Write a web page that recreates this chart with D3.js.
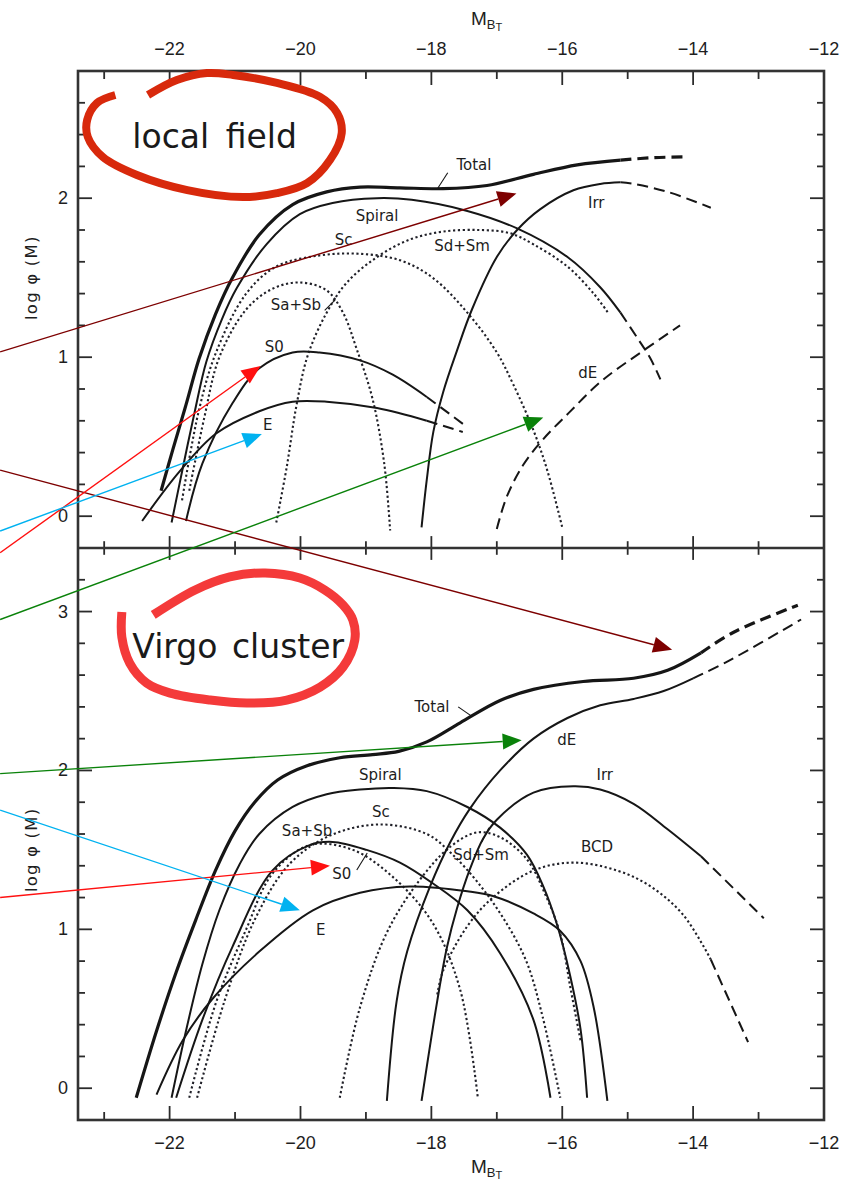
<!DOCTYPE html>
<html>
<head>
<meta charset="utf-8">
<script src="https://cdn.jsdelivr.net/npm/d3@7"></script>
<style>
  html, body { margin: 0; padding: 0; background: #fff; }
  svg { display: block; }
</style>
</head>
<body>
<svg id="chart" width="845" height="1185"></svg>
<script>
// ---------- tick values ----------
const magMajorTicks = [-22, -20, -18, -16, -14, -12];
const magMinorTicks = [-23, -21, -19, -17, -15, -13];
const fieldLogTicks = [0, 1, 2];
const virgoLogTicks = [0, 1, 2, 3];

// ---------- local field luminosity functions: [M_BT, log phi] ----------
const fieldTotal = [[-22.13,0.16],[-21.95,0.42],[-21.75,0.7],[-21.55,0.99],[-21.3,1.27],[-21.04,1.5],[-20.63,1.77],[-20.12,1.96],[-19.6,2.04],[-19.09,2.07],[-18.48,2.065],[-17.82,2.06],[-17.15,2.08],[-16.44,2.15],[-15.77,2.21],[-15.11,2.24],[-14.6,2.255],[-14.1,2.26]];
const fieldSpiral = [[-21.97,-0.04],[-21.8,0.3],[-21.62,0.65],[-21.44,0.97],[-21.2,1.24],[-20.98,1.43],[-20.52,1.71],[-20.01,1.9],[-19.51,1.97],[-18.83,2.0],[-18.3,1.99],[-17.45,1.92],[-16.69,1.81],[-15.92,1.63],[-15.42,1.44],[-15.11,1.28],[-14.85,1.12],[-14.65,0.99],[-14.5,0.86]];
const fieldSc = [[-21.81,0.1],[-21.55,0.67],[-21.29,1.03],[-20.83,1.4],[-20.37,1.57],[-19.71,1.64],[-19.09,1.65],[-18.48,1.61],[-17.98,1.5],[-17.45,1.28],[-17.0,1.03],[-16.75,0.83],[-16.44,0.54],[-16.23,0.29],[-16.0,-0.07]];
const fieldSaSb = [[-21.7,0.16],[-21.47,0.62],[-21.24,1.0],[-20.83,1.3],[-20.43,1.43],[-20.01,1.47],[-19.6,1.42],[-19.35,1.28],[-19.14,1.05],[-18.9,0.74],[-18.72,0.33],[-18.63,-0.09]];
const fieldSdSm = [[-20.37,-0.04],[-20.21,0.31],[-20.06,0.7],[-19.89,1.01],[-19.6,1.28],[-19.29,1.47],[-18.83,1.63],[-18.33,1.74],[-17.82,1.79],[-17.26,1.8],[-16.8,1.78],[-16.44,1.71],[-15.92,1.57],[-15.52,1.4],[-15.3,1.28]];
const fieldS0 = [[-21.75,-0.03],[-21.5,0.33],[-21.04,0.71],[-20.63,0.93],[-20.12,1.03],[-19.71,1.03],[-19.09,0.98],[-18.59,0.89],[-18.07,0.75],[-17.45,0.56]];
const fieldE = [[-22.42,-0.03],[-21.85,0.28],[-21.29,0.52],[-20.63,0.66],[-20.12,0.72],[-19.6,0.72],[-18.83,0.68],[-18.07,0.6],[-17.52,0.53]];
const fieldIrr = [[-18.15,-0.07],[-18.07,0.23],[-17.97,0.53],[-17.82,0.78],[-17.61,1.04],[-17.38,1.3],[-17.0,1.63],[-16.69,1.8],[-16.34,1.93],[-15.83,2.05],[-15.42,2.09],[-15.11,2.1],[-14.91,2.09],[-14.39,2.04],[-13.73,1.94]];
const fieldDE = [[-17.0,-0.08],[-16.85,0.12],[-16.6,0.32],[-16.3,0.48],[-15.9,0.65],[-15.4,0.85],[-14.8,1.03],[-14.2,1.2]];

// ---------- Virgo cluster luminosity functions: [M_BT, log phi] ----------
const virgoTotal = [[-22.51,-0.06],[-22.2,0.36],[-21.9,0.73],[-21.6,1.06],[-21.3,1.37],[-21.0,1.62],[-20.7,1.8],[-20.35,1.94],[-19.9,2.03],[-19.4,2.08],[-18.9,2.1],[-18.5,2.12],[-18.07,2.18],[-17.56,2.3],[-16.95,2.44],[-16.44,2.51],[-15.68,2.56],[-14.91,2.58],[-14.39,2.63],[-13.88,2.74],[-13.38,2.87],[-12.4,3.04]];
const virgoSpiral = [[-21.97,-0.06],[-21.75,0.36],[-21.5,0.78],[-21.24,1.12],[-20.93,1.41],[-20.63,1.6],[-20.12,1.77],[-19.6,1.85],[-19.09,1.88],[-18.59,1.89],[-18.07,1.87],[-17.45,1.77],[-16.95,1.64],[-16.54,1.47],[-16.29,1.27],[-16.08,1.03],[-15.88,0.71],[-15.72,0.37],[-15.62,-0.06]];
const virgoSc = [[-21.58,-0.06],[-21.16,0.55],[-20.7,1.06],[-20.17,1.41],[-19.55,1.59],[-18.79,1.66],[-18.07,1.6],[-17.7,1.48],[-17.3,1.3],[-16.9,1.07],[-16.55,0.8],[-16.3,0.45],[-16.03,-0.06]];
const virgoSaSb = [[-21.7,-0.06],[-21.29,0.54],[-20.83,1.0],[-20.43,1.35],[-19.86,1.53],[-19.2,1.5],[-18.59,1.33],[-17.98,1.04],[-17.56,0.62],[-17.29,-0.06]];
const virgoSdSm = [[-19.4,-0.06],[-19.09,0.51],[-18.68,0.98],[-18.18,1.31],[-17.71,1.52],[-17.3,1.61],[-16.95,1.58],[-16.54,1.44],[-16.26,1.22],[-16.03,0.97],[-15.87,0.62],[-15.72,0.3]];
const virgoS0 = [[-21.9,-0.06],[-21.5,0.43],[-21.04,0.89],[-20.43,1.37],[-19.86,1.53],[-19.51,1.55],[-18.99,1.5],[-18.48,1.42],[-17.98,1.29],[-17.45,1.12],[-16.95,0.85],[-16.44,0.43],[-16.18,-0.06]];
const virgoE = [[-22.2,-0.04],[-21.8,0.3],[-21.35,0.56],[-20.63,0.86],[-19.81,1.12],[-19.09,1.23],[-18.33,1.27],[-17.45,1.24],[-17.06,1.21],[-16.44,1.1],[-16.03,0.99],[-15.72,0.8],[-15.52,0.51],[-15.31,-0.08]];
const virgoDE = [[-18.68,-0.08],[-18.53,0.55],[-18.37,0.86],[-18.02,1.27],[-17.71,1.55],[-17.41,1.76],[-16.95,2.0],[-16.44,2.2],[-15.92,2.33],[-15.42,2.41],[-14.91,2.45],[-14.45,2.5],[-14.0,2.58],[-13.5,2.68],[-12.35,2.95]];
const virgoIrr = [[-18.15,-0.08],[-17.91,0.55],[-17.76,0.89],[-17.61,1.13],[-17.41,1.38],[-17.21,1.57],[-17.0,1.69],[-16.44,1.86],[-15.83,1.9],[-15.42,1.88],[-14.91,1.79],[-14.39,1.63],[-13.88,1.46],[-12.92,1.07]];
const virgoBCD = [[-17.91,0.59],[-17.82,0.74],[-17.45,1.02],[-17.06,1.2],[-16.44,1.37],[-15.83,1.42],[-15.16,1.37],[-14.65,1.27],[-14.15,1.09],[-13.73,0.81],[-13.16,0.29]];

// ---------- curve labels: [text, M_BT, log phi] ----------
const fieldLabels = [["Total",-17.35,2.21],["Spiral",-18.83,1.89],["Sc",-19.34,1.74],["Sd+Sm",-17.53,1.70],["Sa+Sb",-20.07,1.33],["S0",-20.40,1.064],["E",-20.50,0.573],["Irr",-15.48,1.97],["dE",-15.61,0.90]];
const virgoLabels = [["Total",-17.99,2.40],["dE",-15.93,2.19],["Spiral",-18.78,1.97],["Irr",-15.35,1.97],["Sc",-18.77,1.74],["Sa+Sb",-19.90,1.62],["BCD",-15.47,1.517],["Sd+Sm",-17.24,1.468],["S0",-19.37,1.35],["E",-19.69,0.997]];
// short pointer strokes from a label to its curve: [M1, logphi1, M2, logphi2]
const fieldPointers = [[-17.90,2.064,-17.75,2.16],[-19.63,1.295,-19.47,1.36]];
const virgoPointers = [[-17.59,2.40,-17.38,2.34],[-19.14,1.373,-18.98,1.48],[-17.23,1.55,-17.12,1.64]];

// ---------- hand-drawn highlight loops: [M_BT, log phi] of each panel ----------
const fieldLoop = [[-22.33,2.649],[-21.89,2.743],[-21.43,2.787],[-21.03,2.775],[-20.36,2.725],[-19.70,2.637],[-19.44,2.536],[-19.37,2.410],[-19.55,2.240],[-19.90,2.095],[-20.36,2.032],[-20.88,2.007],[-21.73,2.051],[-22.50,2.146],[-23.02,2.259],[-23.25,2.385],[-23.26,2.492],[-23.11,2.599],[-22.83,2.649]];
const virgoLoop = [[-22.73,2.997],[-22.73,2.839],[-22.61,2.676],[-22.35,2.550],[-21.99,2.487],[-21.38,2.443],[-20.82,2.424],[-20.21,2.443],[-19.70,2.525],[-19.35,2.651],[-19.17,2.821],[-19.20,2.947],[-19.35,3.041],[-19.63,3.136],[-20.01,3.211],[-20.54,3.243],[-21.08,3.218],[-21.61,3.136],[-22.25,2.979]];

// ---------- highlight arrows: [panel, M_BT, log phi] for tail and head ----------
const arrowFieldTotal = [["field",-24.59,1.033],["field",-16.70,2.03]];
const arrowFieldS0    = [["field",-24.59,-0.23],["field",-20.61,0.945]];
const arrowFieldE     = [["field",-24.59,-0.093],["field",-20.59,0.517]];
const arrowVirgoTotal = [["field",-24.59,0.29],["virgo",-14.32,2.76]];
const arrowFieldDE    = [["field",-24.59,-0.65],["field",-16.29,0.62]];
const arrowVirgoDE    = [["virgo",-24.59,1.98],["virgo",-16.62,2.19]];
const arrowVirgoE     = [["virgo",-24.59,1.75],["virgo",-20.01,1.12]];
const arrowVirgoS0    = [["virgo",-24.59,1.20],["virgo",-19.55,1.40]];

// ---------- scales ----------
const svg = d3.select("#chart");
const x = d3.scaleLinear().domain([-23.4, -12]).range([78, 824]);
const yField = d3.scaleLinear().domain([-0.2, 2.8]).range([548, 71]);
const yVirgo = d3.scaleLinear().domain([-0.2, 3.4]).range([1120, 548]);
const yOf = { field: yField, virgo: yVirgo };

const INK = "#161616";
const TICK_FONT = "'Liberation Sans', Arial, sans-serif";
const LABEL_FONT = "'DejaVu Sans', Verdana, sans-serif";

// ---------- series definitions ----------
const fieldSeries = [
  { pts: fieldTotal,  style: "solid",  width: 3.2, dashFrom: -15.11 },
  { pts: fieldSpiral, style: "solid",  width: 2.0, dashFrom: -15.11 },
  { pts: fieldSc,     style: "dotted" },
  { pts: fieldSaSb,   style: "dotted" },
  { pts: fieldSdSm,   style: "dotted" },
  { pts: fieldS0,     style: "solid",  width: 2.0, dashFrom: -18.07 },
  { pts: fieldE,      style: "solid",  width: 2.0, dashFrom: -18.07 },
  { pts: fieldIrr,    style: "solid",  width: 2.0, dashFrom: -15.11 },
  { pts: fieldDE,     style: "dashed", width: 2.0 }
];
const virgoSeries = [
  { pts: virgoTotal,  style: "solid",  width: 3.2, dashFrom: -13.88 },
  { pts: virgoSpiral, style: "solid",  width: 2.0 },
  { pts: virgoSc,     style: "dotted" },
  { pts: virgoSaSb,   style: "dotted" },
  { pts: virgoSdSm,   style: "dotted" },
  { pts: virgoS0,     style: "solid",  width: 2.0 },
  { pts: virgoE,      style: "solid",  width: 2.0 },
  { pts: virgoDE,     style: "solid",  width: 2.0, dashFrom: -14.0 },
  { pts: virgoIrr,    style: "solid",  width: 2.0, dashFrom: -13.88 },
  { pts: virgoBCD,    style: "dotted", dashFrom: -13.73 }
];

const dashFor = { solid: null, dotted: "2.2,2.6", dashed: "11,6" };

function drawSeries(g, y, s) {
  const line = d3.line()
    .x(d => x(d[0])).y(d => y(d[1]))
    .curve(d3.curveCatmullRom.alpha(0.5));
  const parts = [];
  if (s.dashFrom == null) {
    parts.push({ pts: s.pts, style: s.style });
  } else {
    const a = s.pts.filter(d => d[0] <= s.dashFrom + 1e-9);
    const b = s.pts.filter(d => d[0] >= s.dashFrom - 1e-9);
    if (a.length > 1) parts.push({ pts: a, style: s.style });
    if (b.length > 1) parts.push({ pts: b, style: "dashed" });
  }
  parts.forEach(p => {
    g.append("path")
      .attr("d", line(p.pts))
      .attr("fill", "none")
      .attr("stroke", p.style === "dotted" ? "#202028" : INK)
      .attr("stroke-width", p.style === "dotted" ? 2.1 : (s.width || 2))
      .attr("stroke-dasharray", dashFor[p.style])
      .attr("stroke-linejoin", "round");
  });
}

function drawPanel(series, labels, pointers, y) {
  const g = svg.append("g");
  series.forEach(s => drawSeries(g, y, s));
  labels.forEach(([t, m, v]) => {
    g.append("text")
      .attr("x", x(m)).attr("y", y(v))
      .attr("text-anchor", "middle").attr("dominant-baseline", "central")
      .attr("font-family", LABEL_FONT).attr("font-size", 15)
      .attr("fill", "#1d1d1d").text(t);
  });
  pointers.forEach(([m1, v1, m2, v2]) => {
    g.append("line")
      .attr("x1", x(m1)).attr("y1", y(v1)).attr("x2", x(m2)).attr("y2", y(v2))
      .attr("stroke", INK).attr("stroke-width", 1.1);
  });
}

// ---------- frame and ticks ----------
const frame = svg.append("g");
const left = x(-23.4), right = x(-12);
const topY = yField(2.8), midY = yField(-0.2), botY = yVirgo(-0.2);

function tickLine(x1, y1, x2, y2, w) {
  frame.append("line").attr("x1", x1).attr("y1", y1).attr("x2", x2).attr("y2", y2)
    .attr("stroke", "#2b2b2b").attr("stroke-width", w || 1.8);
}

// magnitude ticks on the top edge, the panel divider and the bottom edge
magMajorTicks.concat(magMinorTicks).forEach(m => {
  const major = magMajorTicks.includes(m);
  const len = major ? 14 : 8;
  const px = x(m);
  tickLine(px, topY, px, topY + len);
  tickLine(px, midY - len * 0.85, px, midY + len * 0.85);
  tickLine(px, botY, px, botY - len);
});

// log phi ticks (majors at integers, minors every 0.2) on both vertical edges
function yTicks(y, maxTenths) {
  for (let i = 0; i <= maxTenths; i += 2) {
    const v = i / 10;
    const major = i % 10 === 0;
    const len = major ? 14 : 7;
    const py = y(v);
    tickLine(left, py, left + len, py);
    tickLine(right, py, right - len, py);
  }
}
yTicks(yField, 26);
yTicks(yVirgo, 32);

frame.append("rect")
  .attr("x", left).attr("y", topY).attr("width", right - left).attr("height", botY - topY)
  .attr("fill", "none").attr("stroke", "#333").attr("stroke-width", 2.6);
frame.append("line").attr("x1", left).attr("x2", right).attr("y1", midY).attr("y2", midY)
  .attr("stroke", "#333").attr("stroke-width", 2.6);

// tick labels
const fmtMag = m => "\u2212" + Math.abs(m);
magMajorTicks.forEach(m => {
  [topY - 16, botY + 29].forEach(py => {
    svg.append("text").attr("x", x(m)).attr("y", py)
      .attr("text-anchor", "middle").attr("font-family", TICK_FONT)
      .attr("font-size", 18).attr("fill", "#1e1e1e").text(fmtMag(m));
  });
});
fieldLogTicks.forEach(v => {
  svg.append("text").attr("x", 68).attr("y", yField(v) + 6)
    .attr("text-anchor", "end").attr("font-family", TICK_FONT)
    .attr("font-size", 18).attr("fill", "#1e1e1e").text(v);
});
virgoLogTicks.forEach(v => {
  svg.append("text").attr("x", 68).attr("y", yVirgo(v) + 6)
    .attr("text-anchor", "end").attr("font-family", TICK_FONT)
    .attr("font-size", 18).attr("fill", "#1e1e1e").text(v);
});

// axis titles
function magTitle(baseline) {
  const t = svg.append("text").attr("x", 471).attr("y", baseline)
    .attr("font-family", TICK_FONT).attr("fill", "#1e1e1e").attr("font-size", 19);
  t.append("tspan").text("M");
  t.append("tspan").attr("font-size", 13).attr("dy", 4).text("B");
  t.append("tspan").attr("font-size", 11).attr("dy", 2).text("T");
}
magTitle(25);
magTitle(1173);

function logTitle(cy) {
  svg.append("text")
    .attr("transform", `translate(37,${cy}) rotate(-90)`)
    .attr("text-anchor", "middle")
    .attr("font-family", LABEL_FONT).attr("font-size", 16.5)
    .attr("letter-spacing", 1.2)
    .attr("fill", "#1e1e1e")
    .text("log \u03C6 (M)");
}
logTitle(yField(1.5));
logTitle(yVirgo(1.5));

// ---------- curves ----------
drawPanel(fieldSeries, fieldLabels, fieldPointers, yField);
drawPanel(virgoSeries, virgoLabels, virgoPointers, yVirgo);

// ---------- panel titles ----------
svg.append("text").attr("x", x(-22.57)).attr("y", yField(2.316))
  .attr("font-family", LABEL_FONT).attr("font-size", 33).attr("word-spacing", 6)
  .attr("fill", "#1a1a1a").text("local field");
svg.append("text").attr("x", x(-22.57)).attr("y", yVirgo(2.706))
  .attr("font-family", LABEL_FONT).attr("font-size", 33).attr("word-spacing", 4)
  .attr("fill", "#1a1a1a").text("Virgo cluster");

// ---------- highlight loops ----------
const loopLine = d3.curveCatmullRom.alpha(0.5);
svg.append("path")
  .attr("d", d3.line().x(d => x(d[0])).y(d => yField(d[1])).curve(loopLine)(fieldLoop))
  .attr("fill", "none").attr("stroke", "#d8290c").attr("stroke-width", 8)
  .attr("stroke-linejoin", "round");
svg.append("path")
  .attr("d", d3.line().x(d => x(d[0])).y(d => yVirgo(d[1])).curve(loopLine)(virgoLoop))
  .attr("fill", "none").attr("stroke", "#f43a3a").attr("stroke-width", 9)
  .attr("stroke-linejoin", "round");

// ---------- highlight arrows ----------
function arrow(spec, color) {
  const [p0, p1] = spec;
  const x0 = x(p0[1]), y0 = yOf[p0[0]](p0[2]);
  const x1 = x(p1[1]), y1 = yOf[p1[0]](p1[2]);
  const ang = Math.atan2(y1 - y0, x1 - x0);
  const L = 19, W = 8;
  const bx = x1 - L * Math.cos(ang), by = y1 - L * Math.sin(ang);
  svg.append("line").attr("x1", x0).attr("y1", y0).attr("x2", bx).attr("y2", by)
    .attr("stroke", color).attr("stroke-width", 1.4);
  const nx = -Math.sin(ang), ny = Math.cos(ang);
  svg.append("path")
    .attr("d", `M${x1},${y1}L${bx + W * nx},${by + W * ny}L${bx - W * nx},${by - W * ny}Z`)
    .attr("fill", color);
}
arrow(arrowFieldTotal, "#7d0000");
arrow(arrowVirgoTotal, "#7d0000");
arrow(arrowFieldS0, "#ff1010");
arrow(arrowVirgoS0, "#ff1010");
arrow(arrowFieldE, "#00b2f0");
arrow(arrowVirgoE, "#00b2f0");
arrow(arrowFieldDE, "#0a820a");
arrow(arrowVirgoDE, "#0a820a");
</script>
</body>
</html>
